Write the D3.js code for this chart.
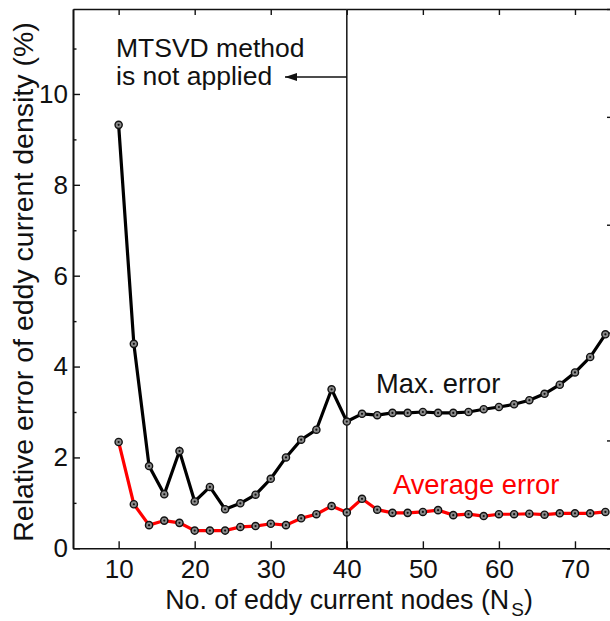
<!DOCTYPE html>
<html>
<head>
<meta charset="utf-8">
<script src="https://cdn.jsdelivr.net/npm/d3@7"></script>
<style>
  html, body { margin: 0; padding: 0; background: #fff; }
  svg text { font-family: "Liberation Sans", Arial, "DejaVu Sans", sans-serif; }
</style>
</head>
<body>
<svg id="chart" width="610" height="621"></svg>
<script>
// ---- data ----
const nodes = [10,12,14,16,18,20,22,24,26,28,30,32,34,36,38,40,42,44,46,48,50,52,54,56,58,60,62,64,66,68,70,72,74];
const maxError = [9.32,4.5,1.81,1.19,2.14,1.03,1.35,0.86,0.99,1.18,1.53,2.0,2.39,2.61,3.5,2.79,2.96,2.93,2.98,2.98,3.0,2.98,2.98,3.0,3.06,3.11,3.17,3.26,3.40,3.60,3.87,4.21,4.71];
const avgError = [2.34,0.97,0.51,0.61,0.56,0.39,0.39,0.39,0.47,0.49,0.54,0.51,0.66,0.75,0.93,0.79,1.09,0.85,0.78,0.78,0.80,0.84,0.73,0.75,0.71,0.75,0.75,0.76,0.74,0.77,0.77,0.77,0.80];
const xTicks = [10,20,30,40,50,60,70];
const yTicks = [0,2,4,6,8,10];
const yMinorTicks = [1,3,5,7,9,11];
const rightMajor = [0,1,2,3,4,5];
const rightMinor = [0.5,1.5,2.5,3.5,4.5];
const thresholdN = 40;
const noteLines = ["MTSVD method", "is not applied"];
const xTitle = "No. of eddy current nodes (N";
const xTitleSub = "S";
const yTitle = "Relative error of eddy current density (%)";

// ---- scales ----
const svg = d3.select("#chart");
const pLeft = 73, pRight = 613, pTop = 9, pBottom = 548.3;
const x = d3.scaleLinear().domain([4, 75]).range([pLeft, pRight]);
const y = d3.scaleLinear().domain([0, 11.87]).range([pBottom, pTop]);
const y2 = d3.scaleLinear().domain([0, 5]).range([pBottom, pTop]);

const FS = 26;
function styleAxis(g) {
  g.selectAll("path.domain").attr("stroke", "#111").attr("stroke-width", 1.6);
  g.selectAll(".tick line").attr("stroke", "#111").attr("stroke-width", 1.4);
  g.selectAll(".tick text").attr("fill", "#111").attr("font-size", FS)
    .attr("font-family", '"Liberation Sans", Arial, sans-serif');
}

// bottom axis
svg.append("g").attr("transform", `translate(0,${pBottom})`)
  .call(d3.axisBottom(x).tickValues(xTicks).tickSizeInner(-7).tickSizeOuter(0).tickPadding(11))
  .call(styleAxis);
// top axis
svg.append("g").attr("transform", `translate(0,${pTop})`)
  .call(d3.axisTop(x).tickValues(xTicks).tickSizeInner(-6).tickSizeOuter(0).tickFormat(""))
  .call(styleAxis);
// left axis
svg.append("g").attr("transform", `translate(${pLeft},0)`)
  .call(d3.axisLeft(y).tickValues(yTicks).tickSizeInner(-7).tickSizeOuter(0).tickPadding(5))
  .call(styleAxis);
svg.append("g").attr("transform", `translate(${pLeft},0)`)
  .call(d3.axisLeft(y).tickValues(yMinorTicks).tickSizeInner(-3.5).tickSizeOuter(0).tickFormat(""))
  .call(styleAxis);
// right axis (secondary, mostly off canvas)
svg.append("g").attr("transform", `translate(${pRight},0)`)
  .call(d3.axisRight(y2).tickValues(rightMajor).tickSizeInner(-6).tickSizeOuter(0).tickFormat(""))
  .call(styleAxis);
svg.append("g").attr("transform", `translate(${pRight},0)`)
  .call(d3.axisRight(y2).tickValues(rightMinor).tickSizeInner(-3).tickSizeOuter(0).tickFormat(""))
  .call(styleAxis);

// vertical threshold line
svg.append("line")
  .attr("x1", x(thresholdN)).attr("x2", x(thresholdN))
  .attr("y1", pTop).attr("y2", pBottom)
  .attr("stroke", "#222").attr("stroke-width", 1.6);

// arrow
svg.append("defs").append("marker")
  .attr("id", "arrow").attr("viewBox", "0 0 12 8")
  .attr("refX", 12).attr("refY", 4)
  .attr("markerWidth", 12).attr("markerHeight", 8)
  .attr("markerUnits", "userSpaceOnUse")
  .attr("orient", "auto")
  .append("path").attr("d", "M0,0 L12,4 L0,8 Z").attr("fill", "#111");
svg.append("line")
  .attr("x1", x(thresholdN)).attr("x2", 285)
  .attr("y1", 77).attr("y2", 77)
  .attr("stroke", "#111").attr("stroke-width", 1.3)
  .attr("marker-end", "url(#arrow)");

// note text
svg.append("text").attr("x", 116).attr("y", 57).attr("font-size", 26.5).attr("fill", "#111").text(noteLines[0]);
svg.append("text").attr("x", 116).attr("y", 85).attr("font-size", 26.5).attr("fill", "#111").text(noteLines[1]);

// series
const line = d3.line().x((d, i) => x(nodes[i])).y(d => y(d));
function drawSeries(vals, color) {
  svg.append("path").datum(vals)
    .attr("d", line).attr("fill", "none")
    .attr("stroke", color).attr("stroke-width", 3.2)
    .attr("stroke-linejoin", "miter");
  const g = svg.append("g");
  g.selectAll("circle.o").data(vals).join("circle").attr("class", "o")
    .attr("cx", (d, i) => x(nodes[i])).attr("cy", d => y(d))
    .attr("r", 3.6).attr("fill", "#8a8a8a").attr("stroke", "#111").attr("stroke-width", 1.4);
  g.selectAll("circle.c").data(vals).join("circle").attr("class", "c")
    .attr("cx", (d, i) => x(nodes[i])).attr("cy", d => y(d))
    .attr("r", 1.1).attr("fill", "#111");
}
drawSeries(maxError, "#000");
drawSeries(avgError, "#ff0000");

// series labels
svg.append("text").attr("x", 376).attr("y", 393).attr("font-size", 27.3).attr("fill", "#111").text("Max. error");
svg.append("text").attr("x", 393).attr("y", 494).attr("font-size", 27.3).attr("fill", "#ff0000").text("Average error");

// axis titles
const xt = svg.append("text").attr("x", 349).attr("y", 609).attr("text-anchor", "middle")
  .attr("font-size", 26.8).attr("fill", "#111");
xt.append("tspan").text(xTitle);
xt.append("tspan").attr("font-size", 19).attr("dy", 7).attr("dx", 2).text(xTitleSub);
xt.append("tspan").attr("dy", -7).text(")");

svg.append("text")
  .attr("transform", "translate(33,282) rotate(-90)")
  .attr("text-anchor", "middle").attr("font-size", 28.5).attr("fill", "#111")
  .text(yTitle);
</script>
</body>
</html>
